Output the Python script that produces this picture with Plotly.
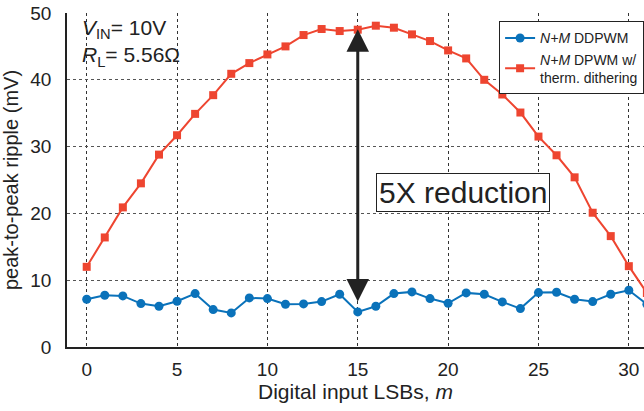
import plotly.graph_objects as go

m = list(range(32))
ddpwm = [7.15, 7.75, 7.65, 6.5, 6.1, 6.85, 8.0, 5.6, 5.1, 7.35,
         7.25, 6.4, 6.45, 6.8, 7.9, 5.25, 6.1, 8.0, 8.25, 7.25,
         6.55, 8.1, 7.9, 6.75, 5.75, 8.15, 8.2, 7.15, 6.8, 7.9,
         8.5, 6.4]
dither = [12.0, 16.4, 20.9, 24.5, 28.8, 31.7, 34.9, 37.7, 40.9, 42.5,
          43.8, 45.0, 46.7, 47.6, 47.3, 47.5, 48.1, 47.8, 46.8, 45.8,
          44.4, 43.2, 40.0, 37.8, 35.1, 31.5, 28.7, 25.4, 20.1, 16.6,
          12.1, 8.1]
xticks = [0, 5, 10, 15, 20, 25, 30]
yticks = [0, 10, 20, 30, 40, 50]

FONT = "Liberation Sans, Arial, sans-serif"
BLUE = "#0A72BA"
RED = "#EE4530"

fig = go.Figure()
fig.add_trace(go.Scatter(x=m, y=ddpwm, mode="lines+markers",
                         name="<i>N+M</i> DDPWM",
                         line=dict(color=BLUE, width=2),
                         marker=dict(symbol="circle", size=9, color=BLUE)))
fig.add_trace(go.Scatter(x=m, y=dither, mode="lines+markers",
                         name="<i>N+M</i> DPWM w/<br>therm. dithering",
                         line=dict(color=RED, width=2),
                         marker=dict(symbol="square", size=8, color=RED)))

fig.add_annotation(x=15, y=6.8, ax=15, ay=47.8, xref="x", yref="y",
                   axref="x", ayref="y", text="", showarrow=True,
                   arrowhead=2, startarrowhead=2, arrowside="end+start",
                   arrowwidth=3, arrowsize=1.5, startarrowsize=1.5,
                   arrowcolor="#222")
fig.add_annotation(x=20.85, y=23.2, xref="x", yref="y",
                   text="5X reduction", showarrow=False,
                   font=dict(family=FONT, size=30, color="#222"),
                   bgcolor="white", bordercolor="#222", borderwidth=1,
                   borderpad=2)
fig.add_annotation(x=0.022, y=0.998, xref="paper", yref="paper",
                   xanchor="left", yanchor="top", align="left",
                   text="<i>V</i><sub>IN</sub>= 10V<br><i>R</i><sub>L</sub>= 5.56Ω",
                   showarrow=False,
                   font=dict(family=FONT, size=21, color="#222"))

fig.update_layout(
    width=644, height=411,
    margin=dict(l=67, r=0, t=13, b=64, autoexpand=False),
    paper_bgcolor="white", plot_bgcolor="white",
    font=dict(family=FONT, size=19, color="#222"),
    showlegend=True,
    legend=dict(x=0.775, y=0.948, xref="container", yref="container",
                xanchor="left", yanchor="top",
                bordercolor="#222", borderwidth=1, bgcolor="white",
                font=dict(family=FONT, size=14, color="#222"),
                tracegroupgap=0, itemwidth=30),
    xaxis=dict(range=[-1.09, 30.84], tickvals=xticks,
               showgrid=True, gridcolor="#333", griddash="dot", gridwidth=1,
               showline=True, linecolor="#222", linewidth=1.5,
               zeroline=False, ticks="", ticklabelstandoff=4,
               tickfont=dict(size=19),
               title=dict(text="Digital input LSBs, <i>m</i>",
                          font=dict(size=21), standoff=6)),
    yaxis=dict(range=[0, 50], tickvals=yticks,
               showgrid=True, gridcolor="#555", griddash="dot", gridwidth=1,
               showline=True, linecolor="#222", linewidth=1.5,
               zeroline=False, ticks="", ticklabelstandoff=10,
               tickfont=dict(size=19),
               title=dict(text="peak-to-peak ripple (mV)",
                          font=dict(size=20), standoff=6)),
)

fig.write_html("out.html")
